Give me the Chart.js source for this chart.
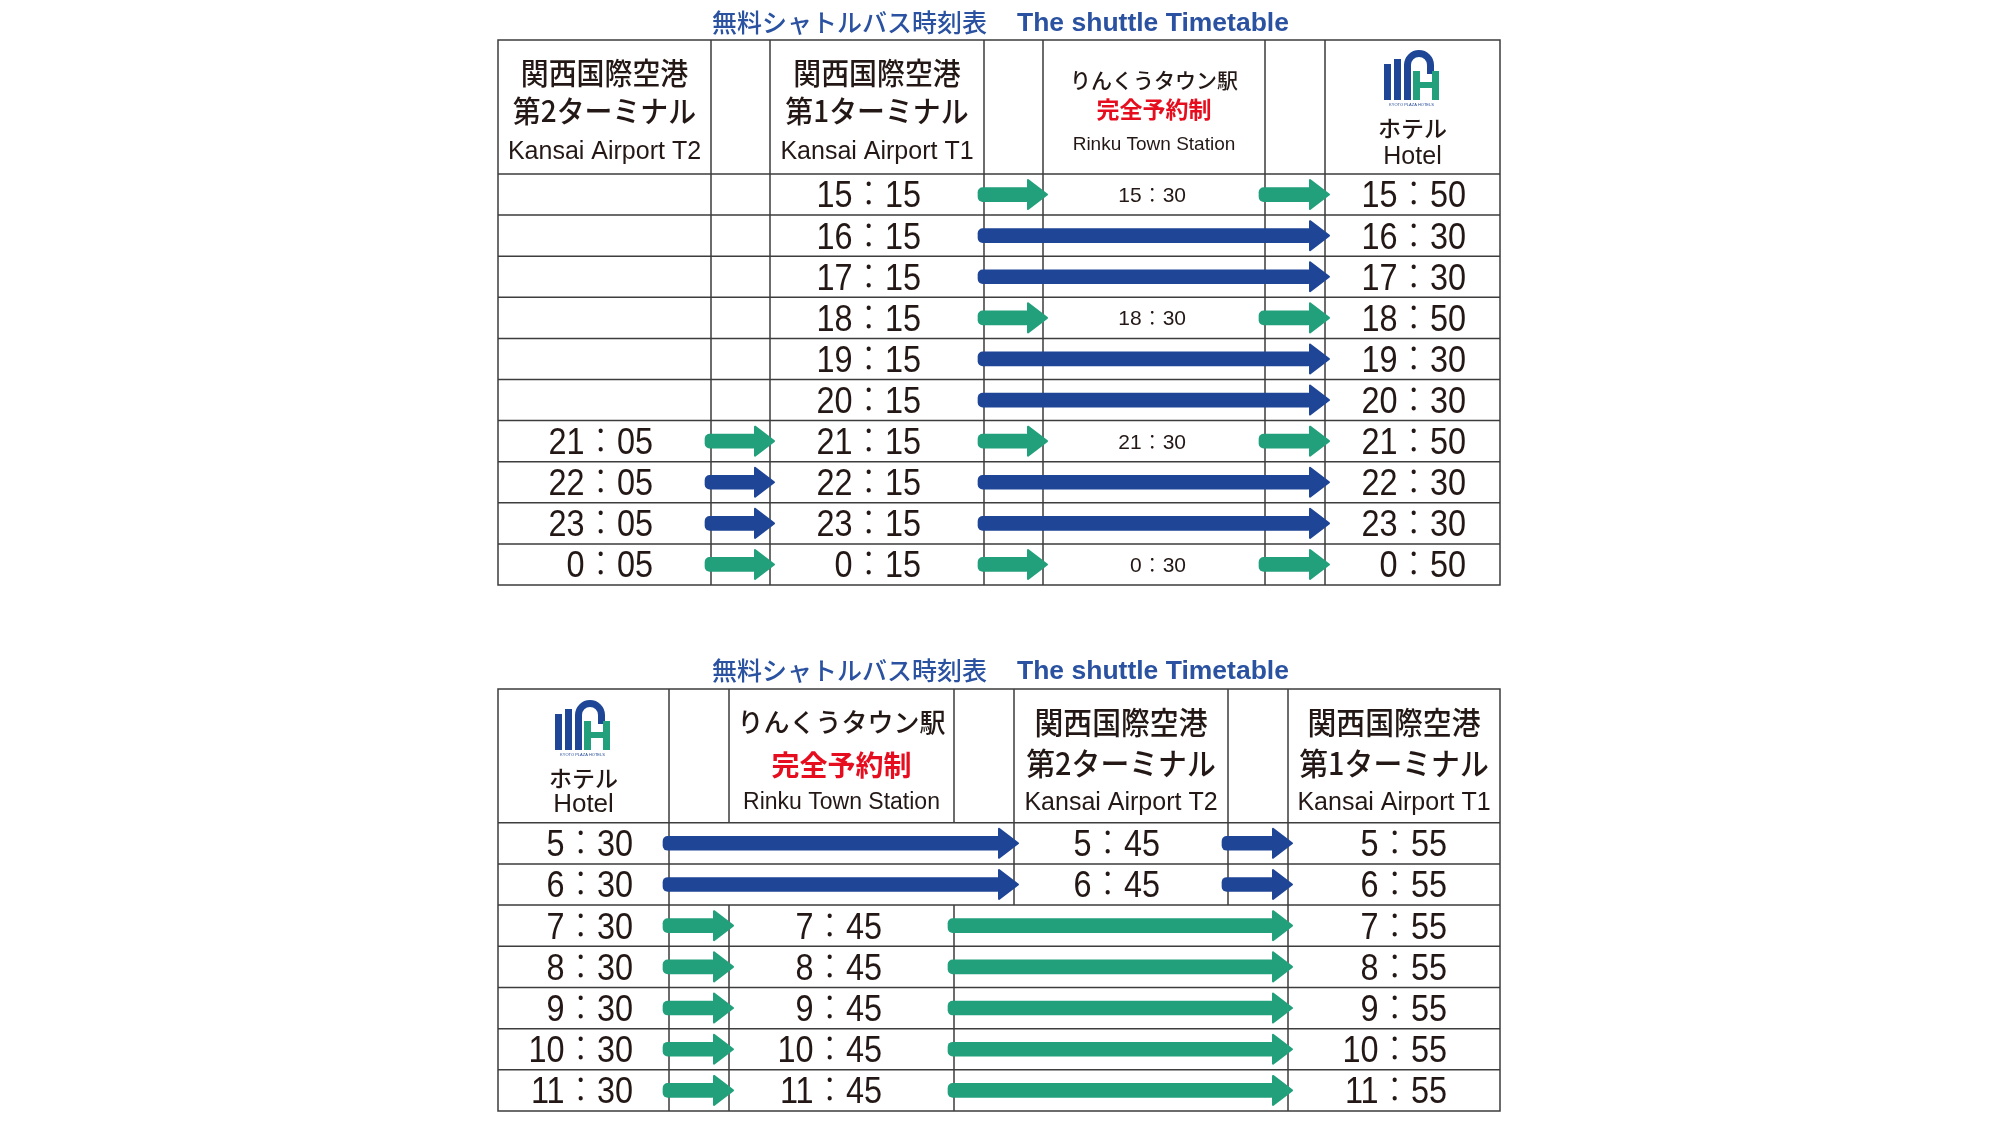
<!DOCTYPE html>
<html><head><meta charset="utf-8">
<script src="https://cdn.jsdelivr.net/npm/chart.js@4.4.1/dist/chart.umd.min.js"></script>
<style>
html,body{margin:0;padding:0;background:#fff;}
#wrap{position:relative;width:2000px;height:1125px;overflow:hidden;background:#fff;}
canvas{position:absolute;left:0;}
</style></head><body>
<div id="wrap">
<canvas id="c1" width="2000" height="600" style="top:0px"></canvas>
<canvas id="c2" width="2000" height="525" style="top:600px"></canvas>
</div>
<script>
// ---------------- DATA ----------------
const titleJa = '無料シャトルバス時刻表';
const titleEn = 'The shuttle Timetable';

// Table 1 : Kansai Airport -> Hotel
const outKinds   = ['airport', 'airport', 'rinku', 'hotel'];
const outHeadJa  = ['関西国際空港', '関西国際空港', 'りんくうタウン駅', 'ホテル'];
const outHeadSub = ['第2ターミナル', '第1ターミナル', '完全予約制', ''];
const outHeadEn  = ['Kansai Airport T2', 'Kansai Airport T1', 'Rinku Town Station', 'Hotel'];
const outT2    = ['', '', '', '', '', '', '21：05', '22：05', '23：05', '0：05'];
const outT1    = ['15：15', '16：15', '17：15', '18：15', '19：15', '20：15', '21：15', '22：15', '23：15', '0：15'];
const outRinku = ['15：30', '', '', '18：30', '', '', '21：30', '', '', '0：30'];
const outHotel = ['15：50', '16：30', '17：30', '18：50', '19：30', '20：30', '21：50', '22：30', '23：30', '0：50'];

// Table 2 : Hotel -> Kansai Airport
const inKinds   = ['hotel', 'rinku', 'airport', 'airport'];
const inHeadJa  = ['ホテル', 'りんくうタウン駅', '関西国際空港', '関西国際空港'];
const inHeadSub = ['', '完全予約制', '第2ターミナル', '第1ターミナル'];
const inHeadEn  = ['Hotel', 'Rinku Town Station', 'Kansai Airport T2', 'Kansai Airport T1'];
const inHotel = ['5：30', '6：30', '7：30', '8：30', '9：30', '10：30', '11：30'];
const inRinku = ['', '', '7：45', '8：45', '9：45', '10：45', '11：45'];
const inT2    = ['5：45', '6：45', '', '', '', '', ''];
const inT1    = ['5：55', '6：55', '7：55', '8：55', '9：55', '10：55', '11：55'];

// ---------------- STYLE / LAYOUT ----------------
const GREEN = '#22a07b', BLUE = '#1f4597', RED = '#e60e1e', INK = '#231815', TITLE = '#2a52a0', LINE = '#3d3d3d';
const JP = '"Noto Sans CJK JP"';
const LAT = '"Liberation Sans", "Noto Sans CJK JP"';
const HEAD_LEN = 20, HEAD_HALF = 14.5, SHAFT = 14;

const outLayout = {
  canvasH: 600, tableTop: 40, bodyTop: 174, bodyBottom: 585, titleY: 22,
  edges: [0, 213, 272, 486, 545, 767, 827, 1002],
  textRight: [155, 423, 688, 968],
  timeFont: [[36, 0.9], [36, 0.9], [21, 1], [36, 0.9]],
  mergeSkipped: false,
  head: {
    airport: [{y: 32.5, font: '500 30px ' + JP, sx: 0.93}, {y: 71, font: '500 30px ' + JP, sx: 0.93}, {y: 110.5, font: '25px ' + LAT, latin: true}],
    rinku:   [{y: 40, font: '500 21px ' + JP}, {y: 69, font: 'bold 23px ' + JP, color: RED}, {y: 103, font: '19px ' + LAT, latin: true}],
    hotel:   [{y: 88.5, font: '500 23px ' + JP}, null, {y: 115, font: '25px ' + LAT, latin: true}],
    logoTop: 10
  }
};
const inLayout = {
  canvasH: 525, tableTop: 89, bodyTop: 222.7, bodyBottom: 511, titleY: 70,
  edges: [0, 171, 231, 456, 516, 730, 790, 1002],
  textRight: [135, 384, 662, 949],
  timeFont: [[36, 0.9], [36, 0.9], [36, 0.9], [36, 0.9]],
  mergeSkipped: true,
  head: {
    airport: [{y: 33.5, font: '500 31px ' + JP, sx: 0.93}, {y: 74, font: '500 31px ' + JP, sx: 0.93}, {y: 112, font: '25px ' + LAT, latin: true}],
    rinku:   [{y: 33.5, font: '500 26px ' + JP}, {y: 76, font: 'bold 28px ' + JP, color: RED}, {y: 112, font: '23px ' + LAT, latin: true}],
    hotel:   [{y: 89, font: '500 23px ' + JP}, null, {y: 114, font: '26px ' + LAT, latin: true}],
    logoTop: 11
  }
};

// ---------------- HELPERS ----------------
function drawLogo(ctx, L, T) {
  ctx.save();
  ctx.fillStyle = BLUE;
  ctx.fillRect(L, T + 14, 7, 36);
  ctx.fillRect(L + 10, T + 9, 7, 41);
  ctx.beginPath();
  ctx.moveTo(L + 20, T + 50);
  ctx.lineTo(L + 20, T + 15);
  ctx.arc(L + 35, T + 15, 15, Math.PI, 0);
  ctx.lineTo(L + 50, T + 24);
  ctx.lineTo(L + 43, T + 24);
  ctx.lineTo(L + 43, T + 15);
  ctx.arc(L + 35, T + 15, 8, 0, Math.PI, true);
  ctx.lineTo(L + 27, T + 50);
  ctx.closePath();
  ctx.fill();
  ctx.fillStyle = GREEN;
  ctx.fillRect(L + 29, T + 21, 7, 29);
  ctx.fillRect(L + 48, T + 21, 7, 29);
  ctx.fillRect(L + 29, T + 32, 26, 6);
  ctx.fillStyle = BLUE;
  ctx.font = '4px "Liberation Sans"';
  ctx.textAlign = 'center';
  ctx.textBaseline = 'alphabetic';
  ctx.fillText('KYOTO PLAZA HOTELS', L + 27.5, T + 56);
  ctx.restore();
}

function buildArrows(times, rinkuIdx, edges) {
  const n = times[0].length, blue = [], green = [];
  for (let r = 0; r < n; r++) {
    const stops = times.map((t, i) => (t[r] ? i : -1)).filter(i => i >= 0);
    const via = times[rinkuIdx][r] !== '';
    for (let k = 0; k < stops.length - 1; k++) {
      const a = stops[k], b = stops[k + 1];
      const start = edges[2 * a + 1] - 6;
      const tip = edges[2 * b] + 5;
      (via ? green : blue).push({x: [start, tip - HEAD_LEN + 3], y: r + 0.5});
    }
  }
  return {blue, green};
}

function fillScaled(ctx, text, x, y, sx) {
  ctx.save();
  ctx.translate(x, y);
  ctx.scale(sx || 1, 1);
  ctx.fillText(text, 0, 0);
  ctx.restore();
}

function tablePlugin(L, times, kinds, headJa, headSub, headEn) {
  return {
    id: 'timetable',
    beforeDatasetsDraw(chart) {
      const {ctx, scales: {x, y}} = chart;
      const X = v => x.getPixelForValue(v);
      const Y = v => y.getPixelForValue(v);
      const n = times[0].length;
      const e = L.edges;
      ctx.save();
      // title
      ctx.fillStyle = TITLE;
      ctx.textBaseline = 'middle';
      ctx.textAlign = 'left';
      ctx.font = '500 25px ' + JP;
      ctx.fillText(titleJa, 712, L.titleY);
      ctx.font = 'bold 25px "Liberation Sans"';
      ctx.textBaseline = 'alphabetic';
      fillScaled(ctx, titleEn, 1017, L.titleY + 9, 1.06);

      // grid
      ctx.strokeStyle = LINE;
      ctx.lineWidth = 1.5;
      ctx.beginPath();
      ctx.rect(X(e[0]), L.tableTop, X(e[7]) - X(e[0]), Y(n) - L.tableTop);
      ctx.moveTo(X(e[0]), Y(0)); ctx.lineTo(X(e[7]), Y(0));
      for (let r = 1; r < n; r++) { ctx.moveTo(X(e[0]), Y(r)); ctx.lineTo(X(e[7]), Y(r)); }
      for (let k = 1; k <= 6; k++) {
        ctx.moveTo(X(e[k]), L.tableTop); ctx.lineTo(X(e[k]), Y(0));
        const s = Math.floor(k / 2);
        for (let r = 0; r < n; r++) {
          if (L.mergeSkipped && !times[s][r]) continue;
          ctx.moveTo(X(e[k]), Y(r)); ctx.lineTo(X(e[k]), Y(r + 1));
        }
      }
      ctx.stroke();

      // header
      for (let s = 0; s < 4; s++) {
        const cx = (X(e[2 * s]) + X(e[2 * s + 1])) / 2;
        const spec = L.head[kinds[s]];
        const texts = [headJa[s], headSub[s], headEn[s]];
        if (kinds[s] === 'hotel') drawLogo(ctx, cx - 28.5, L.tableTop + L.head.logoTop);
        ctx.textAlign = 'center';
        for (let i = 0; i < 3; i++) {
          const sp = spec[i];
          if (!sp || !texts[i]) continue;
          ctx.font = sp.font;
          ctx.fillStyle = sp.color || INK;
          if (sp.latin) {
            const size = parseFloat(sp.font.match(/(\d+(\.\d+)?)px/)[1]);
            ctx.textBaseline = 'alphabetic';
            fillScaled(ctx, texts[i], cx, L.tableTop + sp.y + 0.358 * size, sp.sx);
          } else {
            ctx.textBaseline = 'middle';
            fillScaled(ctx, texts[i], cx, L.tableTop + sp.y, sp.sx);
          }
        }
      }
      ctx.restore();
    },
    afterDatasetsDraw(chart) {
      const {ctx, scales: {x, y}} = chart;
      ctx.save();
      // arrow heads
      chart.data.datasets.forEach((ds, di) => {
        const meta = chart.getDatasetMeta(di);
        meta.data.forEach(el => {
          const p = el.getProps(['x', 'y']);
          const baseX = p.x - 3, tipX = baseX + HEAD_LEN;
          ctx.fillStyle = ds.backgroundColor;
          ctx.strokeStyle = ds.backgroundColor;
          ctx.lineWidth = 2;
          ctx.lineJoin = 'round';
          ctx.beginPath();
          ctx.moveTo(baseX, p.y - HEAD_HALF);
          ctx.lineTo(tipX - 1, p.y);
          ctx.lineTo(baseX, p.y + HEAD_HALF);
          ctx.closePath();
          ctx.fill();
          ctx.stroke();
        });
      });
      // times
      const n = times[0].length;
      ctx.fillStyle = INK;
      ctx.textAlign = 'right';
      ctx.textBaseline = 'alphabetic';
      for (let s = 0; s < 4; s++) {
        const [size, sx] = L.timeFont[s];
        ctx.font = '300 ' + size + 'px ' + LAT;
        const rx = x.getPixelForValue(L.textRight[s]);
        for (let r = 0; r < n; r++) {
          const t = times[s][r];
          if (!t) continue;
          const cy = y.getPixelForValue(r + 0.5);
          fillScaled(ctx, t, rx, cy + 0.358 * size, sx);
        }
      }
      ctx.restore();
    }
  };
}

function makeTable(canvasId, L, times, rinkuIdx, kinds, headJa, headSub, headEn) {
  const arrows = buildArrows(times, rinkuIdx, L.edges);
  const n = times[0].length;
  const common = {barThickness: SHAFT, borderRadius: 5, borderSkipped: false, grouped: false, borderWidth: 0};
  return new Chart(document.getElementById(canvasId), {
    type: 'bar',
    data: {
      datasets: [
        Object.assign({label: 'direct', data: arrows.blue, backgroundColor: BLUE}, common),
        Object.assign({label: 'via Rinku', data: arrows.green, backgroundColor: GREEN}, common)
      ]
    },
    options: {
      indexAxis: 'y',
      responsive: false,
      animation: false,
      devicePixelRatio: 1,
      events: [],
      layout: {padding: {left: 498, right: 500, top: L.bodyTop, bottom: L.canvasH - L.bodyBottom}},
      scales: {
        x: {type: 'linear', min: 0, max: 1002, display: false, offset: false},
        y: {type: 'linear', min: 0, max: n, reverse: true, display: false, offset: false}
      },
      plugins: {legend: {display: false}, tooltip: {enabled: false}}
    },
    plugins: [tablePlugin(L, times, kinds, headJa, headSub, headEn)]
  });
}

makeTable('c1', outLayout, [outT2, outT1, outRinku, outHotel], 2, outKinds, outHeadJa, outHeadSub, outHeadEn);
makeTable('c2', inLayout, [inHotel, inRinku, inT2, inT1], 1, inKinds, inHeadJa, inHeadSub, inHeadEn);
</script>
</body></html>
